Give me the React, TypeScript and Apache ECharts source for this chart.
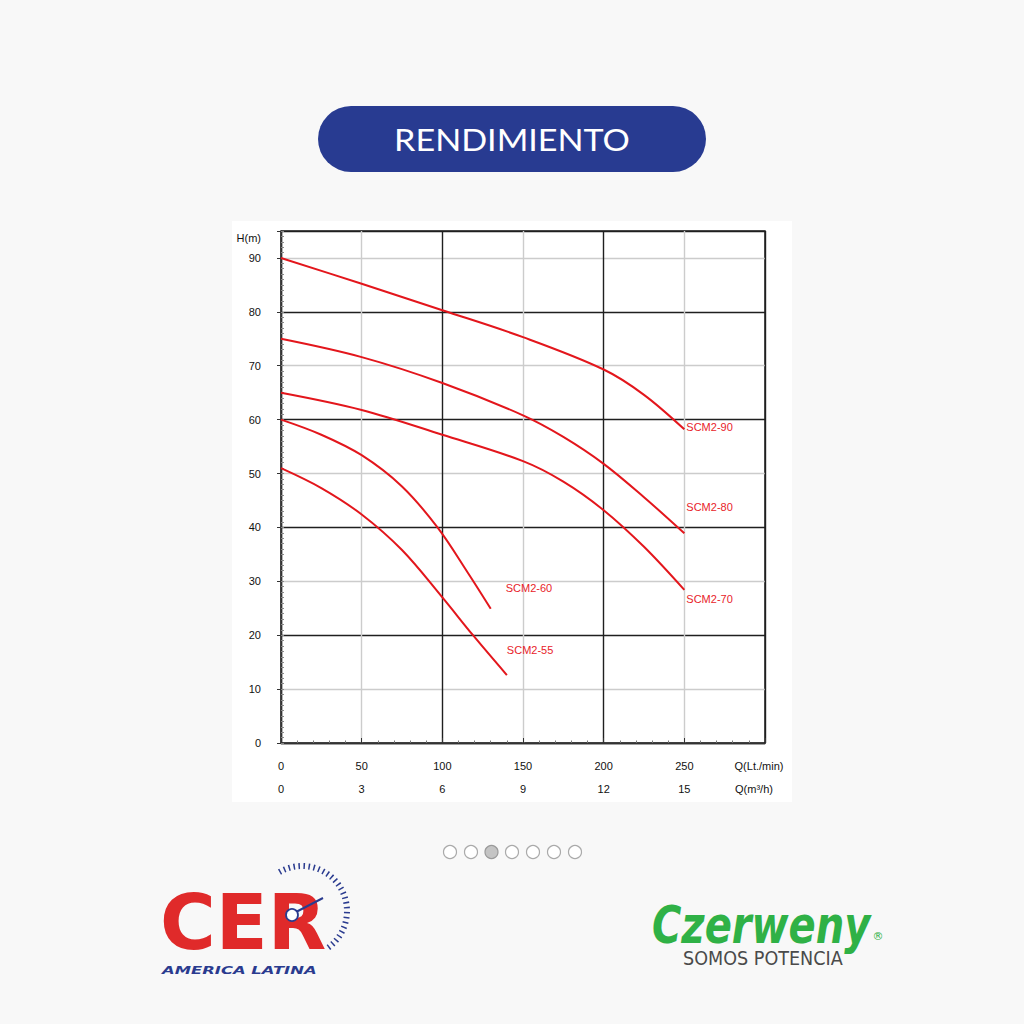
import React, { useEffect, useRef } from "react";
import * as echarts from "echarts";

const seriesNames = ["SCM2-90", "SCM2-80", "SCM2-70", "SCM2-60", "SCM2-55"];
const scm90: [number, number][] = [[0, 90], [50, 85.2], [100, 80.3], [150, 75.3], [200, 69.3], [225, 64.6], [250, 58.2]];
const scm80: [number, number][] = [[0, 75], [50, 71.6], [100, 66.8], [150, 60.8], [175, 56.8], [200, 51.8], [225, 45.6], [250, 38.9]];
const scm70: [number, number][] = [[0, 65], [50, 61.8], [100, 57.2], [150, 52.3], [175, 48.5], [200, 43.2], [225, 36.4], [250, 28.4]];
const scm60: [number, number][] = [[0, 60], [25, 57.2], [50, 53.4], [75, 47.6], [97, 40], [116, 31.5], [130, 24.9]];
const scm55: [number, number][] = [[0, 51], [25, 47.3], [50, 42.4], [75, 35.8], [99.5, 27.2], [119, 20], [140, 12.6]];
const seriesData = [scm90, scm80, scm70, scm60, scm55];
const labelOffsets: [number, number][] = [[2, -2], [2, -26], [2, 9], [15, -21], [0, -25]];

const flowLpmTicks = { min: 0, max: 300, interval: 50, unit: "Q(Lt./min)" };
const flowM3hTicks = { min: 0, max: 18, interval: 3, unit: "Q(m³/h)" };
const headTicks = { min: 0, max: 95, interval: 10, unit: "H(m)" };

const dotXs = [450, 471, 491.5, 512, 533, 554, 575];
const activeDot = 2;

const RED = "#e3161c";
const FONT = "Liberation Sans";

export default function App() {
  const ref = useRef<HTMLDivElement>(null);
  useEffect(() => {
    if (!ref.current) return;
    const chart = echarts.init(ref.current, undefined, { renderer: "svg" });

    const graphics: any[] = [
      { type: "rect", z: -10, shape: { x: 232, y: 221, width: 560, height: 581 }, style: { fill: "#ffffff" } },
      { type: "rect", shape: { x: 318, y: 106, width: 388, height: 66, r: 33 }, style: { fill: "#283b91" } },
      { type: "text", x: 512, y: 139, scaleX: 1.1, originX: 0, originY: 0, style: { text: "RENDIMIENTO", fill: "#ffffff", fontFamily: "Lato", fontSize: 31, align: "center", verticalAlign: "middle" } },
      ...dotXs.map((x, i) => ({
        type: "circle",
        shape: { cx: x, cy: 852, r: 6.5 },
        style: { fill: i === activeDot ? "#c4c4c4" : "#ffffff", stroke: i === activeDot ? "#9a9a9a" : "#aaaaaa", lineWidth: 1.2 },
      })),
      // CER logo
      { type: "arc", shape: { cx: 302, cy: 911, r: 45, startAngle: (-120 * Math.PI) / 180, endAngle: (58 * Math.PI) / 180, clockwise: true }, style: { stroke: "#2a3b8f", lineWidth: 6, lineDash: [1.5, 3.5], fill: "none" } },
      { type: "text", x: 160, y: 922, style: { text: "CER", fill: "#e02a2a", fontFamily: "DejaVu Sans", fontWeight: "bold", fontSize: 76, align: "left", verticalAlign: "middle" } },
      { type: "line", shape: { x1: 296, y1: 912, x2: 323, y2: 898 }, style: { stroke: "#2a3b8f", lineWidth: 2 } },
      { type: "circle", shape: { cx: 292, cy: 915, r: 6 }, style: { fill: "#ffffff", stroke: "#2a3b8f", lineWidth: 1.8 } },
      { type: "text", x: 162, y: 970, scaleX: 1.64, originX: 0, originY: 0, style: { text: "AMERICA LATINA", fill: "#2a3b8f", fontFamily: "DejaVu Sans", fontWeight: "bold", fontStyle: "italic", fontSize: 10, align: "left", verticalAlign: "middle" } },
      // Czerweny logo
      { type: "text", x: 652, y: 925, scaleX: 0.77, originX: 0, originY: 0, style: { text: "Czerweny", fill: "#2fb146", fontFamily: "DejaVu Sans", fontWeight: "bold", fontStyle: "italic", fontSize: 52, align: "left", verticalAlign: "middle" } },
      { type: "text", x: 878, y: 936, style: { text: "®", fill: "#2fb146", fontFamily: "DejaVu Sans", fontSize: 11, align: "center", verticalAlign: "middle" } },
      { type: "text", x: 683, y: 959, scaleX: 1.03, originX: 0, originY: 0, style: { text: "SOMOS POTENCIA", fill: "#4a4a4a", fontFamily: "DejaVu Sans Condensed", fontSize: 19, align: "left", verticalAlign: "middle" } },
    ];

    const option: any = {
      animation: false,
      backgroundColor: "#f8f8f8",
      textStyle: { fontFamily: FONT },
      graphic: graphics,
      grid: { left: 281, top: 231, width: 484, height: 512, show: true, borderColor: "#1a1a1a", borderWidth: 1.5, backgroundColor: "transparent" },
      xAxis: [
        {
          type: "value", min: flowLpmTicks.min, max: flowLpmTicks.max, interval: flowLpmTicks.interval,
          axisLine: { show: false }, axisTick: { show: false }, axisLabel: { show: false },
          splitLine: { show: true, lineStyle: { color: ["#1f1f1f", "#cccccc"], width: 1.4 } },
        },
        {
          type: "value", position: "bottom", offset: 35, min: flowLpmTicks.min, max: flowLpmTicks.max, interval: flowLpmTicks.interval,
          axisLine: { show: true, lineStyle: { color: "#333", width: 1.3 } },
          axisTick: { show: true, inside: true, length: 5, lineStyle: { color: "#333" } },
          minorTick: { show: true, splitNumber: 5, length: 2.5, lineStyle: { color: "#777" } },
          splitLine: { show: false },
          axisLabel: {
            show: true, inside: true, margin: 7, color: "#111", fontSize: 11, fontFamily: FONT, showMaxLabel: true, showMinLabel: true,
            formatter: (v: number) => (v === flowLpmTicks.max ? `{u|${flowLpmTicks.unit}}` : String(v)),
            rich: { u: { fontSize: 11, fontFamily: FONT, color: "#111", padding: [0, 12, 0, 0] } },
          },
        },
        {
          type: "value", position: "bottom", offset: 35, min: flowM3hTicks.min, max: flowM3hTicks.max, interval: flowM3hTicks.interval,
          axisLine: { show: false }, axisTick: { show: false }, splitLine: { show: false },
          axisLabel: {
            show: true, margin: 5, color: "#111", fontSize: 11, fontFamily: FONT, showMaxLabel: true, showMinLabel: true,
            formatter: (v: number) => (v === flowM3hTicks.max ? `{u|${flowM3hTicks.unit}}` : String(v)),
            rich: { u: { fontSize: 11, fontFamily: FONT, color: "#111", padding: [0, 22, 0, 0] } },
          },
        },
      ],
      yAxis: [
        {
          type: "value", position: "left", offset: 12, min: headTicks.min, max: headTicks.max, interval: headTicks.interval,
          axisLine: { show: true, lineStyle: { color: "#333", width: 1.2 } },
          axisTick: { show: true, inside: false, length: 4, lineStyle: { color: "#333" } },
          splitLine: { show: true, lineStyle: { color: ["#1f1f1f", "#cccccc"], width: 1.4 } },
          axisLabel: {
            show: true, margin: 8, color: "#111", fontSize: 11, fontFamily: FONT, showMaxLabel: true,
            formatter: (v: number) => (v === headTicks.max ? `{h|${headTicks.unit}}` : String(v)),
            rich: { h: { fontSize: 11, fontFamily: FONT, color: "#111", padding: [14, 0, 0, 0] } },
          },
        },
        {
          type: "value", position: "left", offset: 12, min: headTicks.min, max: headTicks.max, interval: 1,
          axisLine: { show: true, lineStyle: { color: "#333", width: 1.2 } },
          axisTick: { show: true, inside: true, length: 3, lineStyle: { color: "#888" } },
          axisLabel: { show: false }, splitLine: { show: false },
        },
      ],
      series: seriesData.map((d, i) => ({
        name: seriesNames[i],
        type: "line",
        xAxisIndex: 0,
        yAxisIndex: 0,
        data: d,
        smooth: 0.35,
        showSymbol: false,
        symbol: "none",
        lineStyle: { color: RED, width: 2 },
        endLabel: {
          show: true, formatter: seriesNames[i], color: "#e8232a", fontSize: 11, fontFamily: FONT,
          distance: 0, offset: labelOffsets[i], align: "left",
        },
      })),
    };
    chart.setOption(option);
    return () => chart.dispose();
  }, []);
  return <div ref={ref} style={{ position: "absolute", left: 0, top: 0, width: 1024, height: 1024 }} />;
}
